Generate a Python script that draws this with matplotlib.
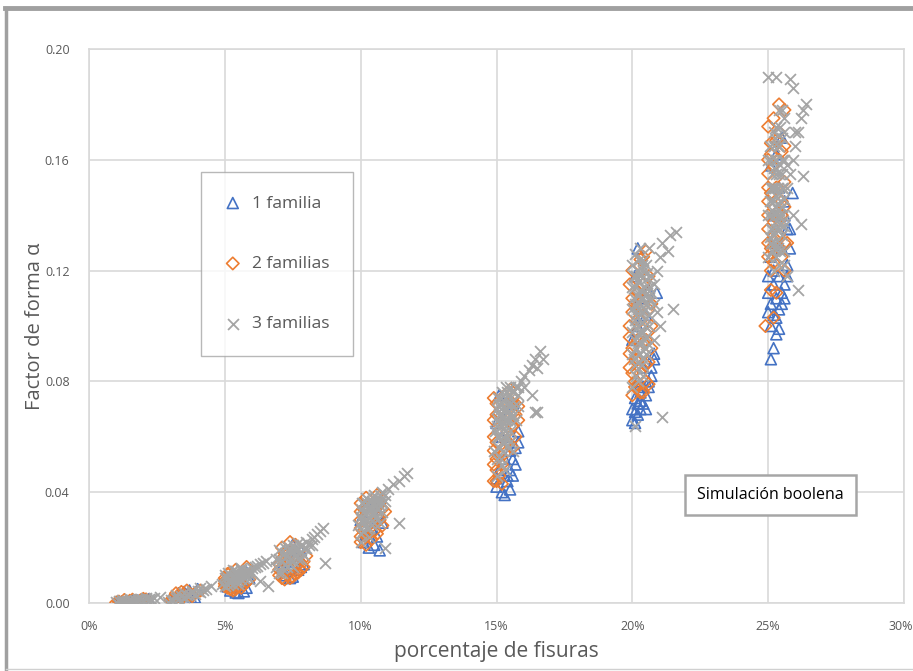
import numpy as np
import matplotlib.pyplot as plt
from matplotlib.ticker import PercentFormatter
from matplotlib.lines import Line2D
from matplotlib.transforms import ScaledTranslation

plt.rcParams['font.family'] = ['Open Sans', 'DejaVu Sans']

# (porcentaje de fisuras [%], factor de forma) per simulation
fam1 = [
    (1.1, .0003), (1.2, .0005), (1.3, .0002), (1.5, .0006), (1.6, .0008), (1.8, .0009),
    (2.0, .0012), (1.4, .0004), (1.7, .0007), (1.0, .0001), (1.9, .0010), (2.2, .0014),
    (3.0, .0015), (3.2, .0020), (3.4, .0025), (3.6, .0030), (3.8, .0010), (3.9, .0020),
    (3.3, .0035), (3.5, .0040), (3.7, .0045), (4.0, .0050), (3.1, .0010),
    (5.2, .0045), (5.4, .0038), (5.5, .0036), (5.7, .0042), (5.8, .0055), (5.3, .0070),
    (5.6, .0080), (5.9, .0090), (5.1, .0060), (5.5, .0100), (5.8, .0110),
    (7.2, .0100), (7.4, .0090), (7.5, .0095), (7.7, .0120), (7.8, .0130), (7.9, .0140),
    (7.3, .0150), (7.6, .0170), (7.1, .0130), (7.8, .0190), (7.5, .0210),
    (10.1, .022), (10.3, .020), (10.5, .021), (10.7, .019), (10.2, .025), (10.4, .027),
    (10.6, .024), (10.8, .029), (10.0, .030), (10.3, .033), (10.5, .036), (10.7, .032),
    (10.2, .035),
    (15.0, .042), (15.2, .040), (15.3, .039), (15.5, .041), (15.4, .044), (15.1, .047),
    (15.6, .046), (15.7, .050), (15.3, .052), (15.5, .055), (15.2, .060), (15.8, .062),
    (15.0, .065), (15.4, .068), (15.6, .072), (15.1, .075), (15.0, .045), (15.1, .048),
    (15.4, .046), (15.6, .052), (15.7, .056), (15.8, .058), (15.5, .048),
    (20.0, .066), (20.1, .065), (20.2, .068), (20.3, .070), (20.4, .072), (20.1, .074),
    (20.3, .076), (20.5, .075), (20.6, .078), (20.2, .080), (20.7, .082), (20.4, .085),
    (20.8, .090), (20.0, .095), (20.2, .100), (20.5, .104), (20.3, .110), (20.6, .113),
    (20.1, .118), (20.9, .112), (20.2, .128), (20.0, .070), (20.1, .069), (20.3, .073),
    (20.4, .078), (20.6, .080), (20.7, .085), (20.8, .088), (20.5, .070), (20.2, .072),
    (20.3, .079),
    (25.1, .088), (25.2, .092), (25.3, .097), (25.1, .100), (25.4, .099), (25.2, .104),
    (25.5, .108), (25.3, .110), (25.0, .112), (25.6, .115), (25.4, .118), (25.2, .120),
    (25.7, .122), (25.1, .125), (25.5, .128), (25.3, .130), (25.8, .135), (25.2, .140),
    (25.6, .145), (25.4, .150), (25.1, .158), (25.3, .162), (25.9, .148), (25.5, .168),
    (25.0, .105), (25.1, .108), (25.3, .103), (25.4, .106), (25.5, .112), (25.6, .110),
    (25.7, .118), (25.2, .115), (25.0, .118), (25.8, .128), (25.7, .135), (25.6, .140),
]

fam2 = [
    (1.0, .0002), (1.1, .0005), (1.2, .0001), (1.4, .0004), (1.5, .0008), (1.7, .0006),
    (1.9, .0010), (2.1, .0013), (1.3, .0011), (1.6, .0012), (1.8, .0003), (2.0, .0015),
    (3.0, .0010), (3.1, .0015), (3.3, .0020), (3.5, .0025), (3.7, .0030), (3.9, .0035),
    (4.1, .0045), (3.2, .0035), (3.4, .0040), (3.6, .0045), (3.8, .0025),
    (5.0, .0060), (5.1, .0075), (5.2, .0050), (5.0, .0090), (5.3, .0045), (5.5, .0060),
    (5.7, .0065), (5.9, .0085), (5.2, .0110), (5.4, .0120), (5.6, .0100), (5.8, .0130),
    (5.1, .0105), (5.0, .0070), (5.1, .0055), (5.0, .0080), (5.3, .0055), (5.2, .0065),
    (5.4, .0050), (5.6, .0055), (5.8, .0075),
    (7.0, .0120), (7.1, .0090), (7.2, .0085), (7.4, .0090), (7.6, .0105), (7.8, .0120),
    (7.9, .0150), (7.3, .0160), (7.5, .0180), (7.7, .0140), (7.1, .0200), (7.4, .0220),
    (7.6, .0210), (8.0, .0170), (7.0, .0100), (7.0, .0140), (7.1, .0160), (7.3, .0100),
    (7.5, .0095), (7.7, .0110), (7.9, .0130), (7.2, .0180),
    (10.0, .022), (10.1, .026), (10.2, .021), (10.0, .030), (10.4, .023), (10.6, .025),
    (10.8, .028), (10.3, .031), (10.5, .034), (10.7, .036), (10.1, .034), (10.2, .038),
    (10.6, .039), (10.9, .033), (10.4, .029), (10.0, .024), (10.0, .027), (10.1, .023),
    (10.0, .033), (10.2, .024), (10.5, .026), (10.7, .030), (10.8, .034), (10.0, .036),
    (10.3, .025),
    (14.9, .044), (15.0, .048), (15.1, .046), (15.2, .050), (14.9, .055), (15.0, .058),
    (15.3, .054), (15.5, .060), (15.6, .064), (15.1, .062), (15.4, .066), (15.7, .068),
    (15.2, .070), (15.6, .072), (14.9, .074), (15.3, .075), (15.5, .077), (15.0, .068),
    (15.4, .058), (15.8, .071), (14.9, .050), (14.9, .060), (14.9, .066), (15.0, .052),
    (15.0, .072), (15.1, .054), (15.6, .056), (15.7, .060), (15.5, .070), (15.8, .066),
    (15.0, .044), (15.2, .043), (15.6, .074), (15.4, .062),
    (20.0, .075), (20.1, .080), (20.2, .078), (20.4, .076), (20.6, .079), (20.3, .083),
    (20.5, .086), (20.1, .088), (19.9, .085), (20.0, .092), (20.2, .095), (20.4, .094),
    (20.6, .098), (20.7, .100), (20.3, .102), (20.0, .105), (20.1, .108), (20.5, .110),
    (20.2, .112), (20.4, .115), (20.6, .118), (20.0, .120), (20.3, .124), (20.5, .127),
    (19.9, .090), (19.9, .096), (19.9, .100), (20.0, .110), (19.9, .115), (20.0, .083),
    (20.1, .078), (20.3, .076), (20.5, .080), (20.6, .087), (20.7, .092), (20.5, .095),
    (20.6, .106), (20.7, .108), (20.4, .125), (20.2, .088),
    (24.9, .100), (25.2, .103), (25.3, .112), (25.5, .125), (25.4, .128), (25.1, .120),
    (25.3, .131), (25.6, .130), (25.0, .135), (25.2, .140), (25.4, .138), (25.5, .145),
    (25.1, .148), (25.3, .150), (25.6, .152), (25.0, .155), (25.2, .158), (25.4, .160),
    (25.1, .162), (25.5, .163), (25.3, .167), (25.0, .172), (25.2, .175), (25.6, .178),
    (25.4, .180), (25.0, .125), (25.0, .130), (25.0, .140), (25.0, .145), (25.0, .150),
    (25.0, .160), (25.1, .128), (25.2, .123), (25.4, .133), (25.5, .140), (25.6, .143),
    (25.7, .130), (25.6, .120), (25.1, .113), (25.2, .131), (25.4, .170), (25.1, .166),
    (25.6, .165),
]

fam3 = [
    (1.0, .0003), (1.1, .0006), (1.2, .0004), (1.3, .0008), (1.4, .0006), (1.5, .0009),
    (1.6, .0008), (1.7, .0011), (1.8, .0010), (1.9, .0013), (2.0, .0012), (2.1, .0015),
    (2.2, .0014), (2.3, .0016), (2.4, .0018), (2.6, .0020), (1.2, .0012), (1.5, .0014),
    (1.8, .0016), (2.1, .0019),
    (2.9, .0005), (3.0, .0012), (3.1, .0010), (3.2, .0018), (3.3, .0015), (3.4, .0025),
    (3.5, .0022), (3.6, .0030), (3.7, .0028), (3.8, .0036), (3.9, .0033), (4.0, .0042),
    (4.1, .0040), (4.2, .0048), (4.3, .0052), (4.5, .0060), (3.2, .0028), (3.5, .0035),
    (3.8, .0042), (4.1, .0055), (3.4, .0004),
    (4.9, .0070), (5.0, .0090), (5.1, .0080), (5.2, .0100), (5.3, .0085), (5.4, .0105),
    (5.5, .0095), (5.6, .0110), (5.7, .0100), (5.8, .0120), (5.9, .0115), (6.0, .0125),
    (6.1, .0130), (6.3, .0140), (6.5, .0150), (6.6, .0060), (6.3, .0080), (5.3, .0120),
    (5.6, .0125), (5.9, .0105), (5.1, .0110), (5.4, .0075), (5.0, .0060), (5.1, .0065),
    (5.2, .0072), (5.3, .0068), (5.4, .0090), (5.5, .0080), (5.6, .0085), (5.7, .0092),
    (5.8, .0098), (5.2, .0088), (5.4, .0115), (5.6, .0120), (5.0, .0100), (5.3, .0095),
    (5.7, .0112), (6.2, .0135), (6.4, .0145), (6.0, .0110), (5.5, .0070), (5.9, .0088),
    (6.9, .013), (7.0, .016), (7.1, .015), (7.2, .018), (7.3, .017), (7.4, .019),
    (7.5, .018), (7.6, .020), (7.7, .019), (7.8, .021), (7.9, .020), (8.0, .022),
    (8.1, .021), (8.2, .023), (8.3, .024), (8.4, .025), (8.5, .026), (8.6, .027),
    (7.2, .020), (7.5, .021), (7.8, .016), (8.7, .0145), (7.4, .014), (7.1, .011),
    (7.0, .0110), (7.1, .0125), (7.2, .0140), (7.3, .0130), (7.4, .0160), (7.5, .0150),
    (7.6, .0170), (7.7, .0160), (7.8, .0185), (7.9, .0175), (7.0, .0190), (7.2, .0165),
    (7.4, .0200), (7.6, .0190), (8.0, .0200), (7.3, .0205), (7.5, .0130), (7.7, .0215),
    (8.2, .0210), (6.9, .0160),
    (9.9, .028), (10.0, .031), (10.1, .033), (10.2, .035), (10.3, .034), (10.4, .037),
    (10.5, .036), (10.6, .038), (10.7, .039), (10.8, .040), (10.9, .039), (11.0, .041),
    (11.2, .043), (11.4, .044), (11.6, .046), (11.7, .047), (10.2, .030), (10.4, .032),
    (10.6, .034), (10.8, .036), (10.1, .026), (10.5, .029), (11.4, .029), (10.9, .020),
    (10.3, .024), (10.0, .025), (10.1, .029), (10.2, .027), (10.3, .031), (10.4, .028),
    (10.5, .032), (10.6, .030), (10.7, .035), (10.0, .034), (10.2, .038), (10.4, .034),
    (10.6, .037), (10.8, .033), (10.3, .037), (10.1, .036), (10.9, .037), (10.5, .039),
    (10.7, .029), (10.0, .022), (10.3, .027), (10.05, .030), (10.15, .032), (10.25, .033),
    (10.35, .035), (10.45, .033), (10.55, .035), (10.65, .036), (10.15, .028), (10.35, .029),
    (10.25, .036), (10.45, .038), (10.05, .036), (10.75, .037), (10.55, .031),
    (14.9, .055), (15.0, .060), (15.1, .065), (15.2, .068), (15.3, .070), (15.4, .072),
    (15.5, .074), (15.6, .076), (15.7, .078), (15.8, .078), (15.9, .080), (16.0, .082),
    (16.2, .084), (16.3, .086), (16.4, .088), (16.5, .085), (16.6, .091), (16.7, .088),
    (16.3, .075), (16.5, .069), (15.1, .072), (15.3, .058), (15.5, .062), (15.2, .050),
    (15.4, .066), (15.6, .055), (15.0, .070), (15.8, .071), (16.4, .069),
    (15.0, .052), (15.1, .056), (15.2, .058), (15.3, .062), (15.4, .060), (15.5, .066),
    (15.6, .068), (15.1, .060), (15.2, .064), (15.3, .066), (15.4, .070), (15.5, .072),
    (15.0, .064), (15.2, .072), (15.3, .074), (15.4, .076), (15.6, .073), (15.1, .068),
    (15.5, .058), (15.7, .066), (15.0, .046), (15.3, .048), (15.2, .076), (15.5, .078),
    (15.8, .075), (16.0, .078), (14.95, .062), (15.05, .066), (15.15, .070), (15.25, .067),
    (15.35, .064), (15.45, .068), (15.55, .070), (15.15, .074), (15.25, .060), (15.35, .078),
    (15.45, .075), (15.05, .074), (15.65, .071), (15.25, .055), (15.15, .052), (15.45, .056),
    (20.0, .090), (20.1, .095), (20.2, .100), (20.3, .098), (20.4, .105), (20.5, .103),
    (20.6, .110), (20.7, .112), (20.8, .115), (20.9, .120), (21.0, .125), (21.1, .130),
    (21.3, .127), (21.4, .133), (21.6, .134), (21.5, .106), (21.1, .067), (20.2, .085),
    (20.4, .088), (20.6, .093), (20.1, .108), (20.3, .113), (20.5, .117), (20.0, .114),
    (20.2, .120), (20.4, .124), (20.8, .095), (21.0, .100), (20.1, .064), (20.6, .128),
    (20.9, .105), (20.0, .098), (20.1, .102), (20.2, .106), (20.3, .104), (20.4, .110),
    (20.5, .108), (20.6, .114), (20.1, .114), (20.2, .116), (20.3, .118), (20.4, .120),
    (20.5, .122), (20.0, .122), (20.1, .126), (20.3, .128), (20.2, .094), (20.4, .098),
    (20.6, .104), (20.3, .090), (20.5, .096), (20.1, .086), (20.2, .080), (20.4, .082),
    (20.0, .078), (20.7, .118), (20.8, .108), (20.6, .100), (20.2, .111), (20.0, .106),
    (20.5, .090), (20.05, .100), (20.15, .104), (20.25, .108), (20.35, .101), (20.45, .106),
    (20.55, .112), (20.15, .092), (20.25, .097), (20.35, .094), (20.45, .100), (20.05, .110),
    (20.15, .118), (20.25, .124), (20.35, .122), (20.45, .114), (20.55, .119), (20.05, .088),
    (20.25, .090), (20.35, .086), (20.15, .082), (20.45, .092), (20.65, .109), (20.05, .118),
    (20.35, .110),
    (25.0, .125), (25.1, .130), (25.2, .133), (25.3, .138), (25.4, .140), (25.5, .143),
    (25.6, .146), (25.7, .150), (25.8, .155), (25.9, .160), (26.0, .165), (26.1, .170),
    (26.2, .175), (26.3, .178), (26.4, .180), (25.0, .190), (25.3, .190), (25.8, .189),
    (25.9, .186), (26.0, .170), (25.1, .150), (25.3, .155), (25.5, .160), (25.2, .120),
    (25.4, .135), (25.6, .127), (25.7, .118), (26.2, .137), (26.3, .154), (26.1, .113),
    (25.9, .140), (25.4, .178), (25.2, .165), (25.6, .170), (25.1, .140), (25.2, .145),
    (25.3, .143), (25.4, .148), (25.5, .150), (25.2, .150), (25.3, .160), (25.4, .155),
    (25.5, .140), (25.1, .135), (25.2, .128), (25.3, .125), (25.4, .130), (25.5, .133),
    (25.6, .136), (25.1, .160), (25.2, .170), (25.3, .172), (25.4, .165), (25.5, .168),
    (25.6, .160), (25.3, .147), (25.2, .157), (25.4, .142), (25.5, .155), (25.1, .145),
    (25.3, .135), (25.7, .158), (25.6, .175), (25.5, .178), (25.0, .140), (25.0, .160),
    (25.6, .122), (25.4, .122), (25.05, .145), (25.15, .150), (25.25, .140), (25.35, .150),
    (25.45, .145), (25.55, .138), (25.15, .135), (25.25, .130), (25.35, .128), (25.45, .137),
    (25.05, .132), (25.15, .155), (25.25, .160), (25.35, .165), (25.45, .158), (25.05, .165),
    (25.25, .168), (25.45, .172), (25.15, .142), (25.35, .142), (25.55, .150), (25.25, .150),
    (25.15, .127), (25.45, .127),
]

labels = ['1 familia', '2 familias', '3 familias']
x_ticks = [0, 5, 10, 15, 20, 25, 30]
y_ticks = [0.00, 0.04, 0.08, 0.12, 0.16, 0.20]

blue, orange, grey = '#4472C4', '#ED7D31', '#A5A5A5'
txt = '#595959'

fig = plt.figure(figsize=(9.13, 6.71), dpi=100)
ax = fig.add_axes([89 / 913, 1 - 603 / 671, 815 / 913, 554 / 671])

f1 = np.array(fam1)
f2 = np.array(fam2)
f3 = np.array(fam3)
ax.scatter(f1[:, 0] / 100, f1[:, 1], marker='^', s=62, facecolors='none',
           edgecolors=blue, linewidths=1.2, label=labels[0], zorder=3)
ax.scatter(f2[:, 0] / 100, f2[:, 1], marker='D', s=40, facecolors='none',
           edgecolors=orange, linewidths=1.2, label=labels[1], zorder=4)
ax.scatter(f3[:, 0] / 100, f3[:, 1], marker='x', s=62,
           color=grey, linewidths=1.3, label=labels[2], zorder=5)

ax.set_xlim(0, 0.30)
ax.set_ylim(0, 0.20)
ax.set_xticks([v / 100 for v in x_ticks])
ax.set_yticks(y_ticks)
ax.xaxis.set_major_formatter(PercentFormatter(1.0, decimals=0))
ax.yaxis.set_major_formatter(lambda v, p: f'{v:.2f}')
ax.grid(True, color='#D9D9D9', linewidth=1.2, zorder=0)
ax.set_axisbelow(True)
for s in ax.spines.values():
    s.set_color('#D9D9D9')
    s.set_linewidth(1.2)
ax.tick_params(length=0, labelsize=9, labelcolor=txt)
ax.tick_params(axis='x', pad=12)
ax.tick_params(axis='y', pad=14)

# keep the last x label inside the figure edge
last = ax.get_xticklabels()[-1]
last.set_transform(last.get_transform() + ScaledTranslation(-3 / 100, 0, fig.dpi_scale_trans))

ax.set_xlabel('porcentaje de fisuras', fontsize=15, color=txt, labelpad=6)
ax.set_ylabel('Factor de forma α', fontsize=14.5, color=txt, labelpad=0)

leg = ax.legend(loc='upper left', bbox_to_anchor=(0.137, 0.778), borderaxespad=0,
                fontsize=12.5, labelspacing=2.55, borderpad=1.35, handlelength=1.0,
                handletextpad=0.6, fancybox=False, labelcolor=txt, scatterpoints=1)
leg.get_frame().set_edgecolor('#A6A6A6')
leg.get_frame().set_linewidth(1.0)

ax.text(0.836, 0.195, 'Simulación boolena', transform=ax.transAxes, fontsize=11.5,
        color='black', ha='center', va='center', zorder=6,
        bbox=dict(boxstyle='square,pad=0.75', facecolor='white', edgecolor='#A6A6A6',
                  linewidth=1.8))

# chart frame
fig.add_artist(Line2D([6 / 913, 6 / 913], [2 / 671, 1 - 8 / 671], transform=fig.transFigure,
                      color='#A0A0A0', linewidth=2.5))
fig.add_artist(Line2D([5 / 913, 1], [1 - 8 / 671, 1 - 8 / 671], transform=fig.transFigure,
                      color='#A0A0A0', linewidth=3.5))
fig.add_artist(Line2D([6 / 913, 1], [2 / 671, 2 / 671], transform=fig.transFigure,
                      color='#D0D0D0', linewidth=1))

fig.savefig('out.png', dpi=100)
